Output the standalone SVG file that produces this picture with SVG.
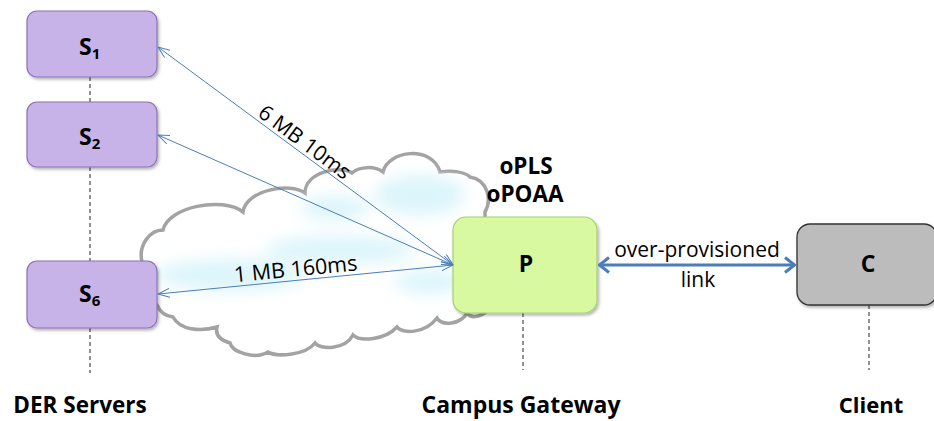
<svg xmlns="http://www.w3.org/2000/svg" width="934" height="421" viewBox="0 0 934 421">
<style>
.bold{font-family:"Open Sans","Liberation Sans",sans-serif;font-weight:bold;fill:#000}
.reg{font-family:"Open Sans","Liberation Sans",sans-serif;fill:#000}
.srv{fill:#c7b3e8;stroke:#8b72b2;stroke-width:1.2}
.dash{stroke:#222;stroke-width:1;stroke-dasharray:4 3;fill:none}
.thin{stroke:#4a7ebb;stroke-width:1;fill:none;marker-start:url(#ah);marker-end:url(#ah)}
.thick{stroke:#4a7ebb;stroke-width:3;fill:none;marker-start:url(#ahb);marker-end:url(#ahb)}
</style>
<defs>
<marker id="ah" viewBox="0 0 12 10" refX="11.5" refY="5" markerWidth="12" markerHeight="10" markerUnits="userSpaceOnUse" orient="auto-start-reverse">
<path d="M0,0.5 L11.5,5 L0,9.5" fill="none" stroke="#4a7ebb" stroke-width="1"/>
</marker>
<marker id="ahb" viewBox="0 0 12 18" refX="11" refY="9" markerWidth="12" markerHeight="18" markerUnits="userSpaceOnUse" orient="auto-start-reverse">
<path d="M1,1.5 L10.5,9 L1,16.5" fill="none" stroke="#4a7ebb" stroke-width="3"/>
</marker>
<filter id="blur" x="-30%" y="-50%" width="160%" height="200%"><feGaussianBlur stdDeviation="8"/></filter>
<filter id="sh" x="-10%" y="-10%" width="125%" height="130%"><feDropShadow dx="1.5" dy="2" stdDeviation="1.5" flood-color="#000" flood-opacity="0.3"/></filter>
<clipPath id="cc"><path id="cloudpath" d="M142,262 C138,245 150,230 163,230 C168,207 222,196 243,212 C246,190 290,182 305,193 C305,172 340,165 352,173 C360,166 375,166 383,172 C388,150 432,145 440,172 C452,170 465,172 470,177 C488,180 492,200 485,212 L486,312 C478,318 470,318 467,313 C460,325 442,326 437,318 C425,334 402,334 397,327 C385,340 360,342 353,335 C345,350 320,350 315,343 C305,356 275,357 268,352 C255,360 232,352 230,343 C220,340 215,335 217,327 C200,332 180,330 173,317 C165,316 160,312 157,305 L140,290 Z"/></clipPath>
</defs>
<rect width="934" height="421" fill="#fff"/>

<g id="cloud">
<use href="#cloudpath" fill="#fff" stroke="#a3a3a3" stroke-width="3.5"/>
<g clip-path="url(#cc)" filter="url(#blur)" fill="#dcf5fb">
<ellipse cx="230" cy="275" rx="75" ry="16"/>
<ellipse cx="340" cy="250" rx="75" ry="14"/>
<ellipse cx="420" cy="195" rx="45" ry="20"/>
<ellipse cx="335" cy="208" rx="35" ry="12"/>
<ellipse cx="430" cy="282" rx="35" ry="12"/>
</g>
</g>

<g id="lifelines">
<line class="dash" x1="90" y1="77" x2="90" y2="102"/>
<line class="dash" x1="90" y1="167" x2="90" y2="261"/>
<line class="dash" x1="90" y1="328" x2="90" y2="373"/>
<line class="dash" x1="523" y1="313" x2="523" y2="370"/>
<line class="dash" x1="869" y1="305" x2="869" y2="370"/>
</g>

<g id="S1">
<rect class="srv" x="27" y="11" width="130" height="66" rx="10" filter="url(#sh)"/>
<text class="bold" x="79" y="55" font-size="23">S<tspan font-size="15" dy="4">1</tspan></text>
</g>
<g id="S2">
<rect class="srv" x="27" y="102" width="130" height="65" rx="10" filter="url(#sh)"/>
<text class="bold" x="79" y="145" font-size="23">S<tspan font-size="15" dy="4">2</tspan></text>
</g>
<g id="S6">
<rect class="srv" x="27" y="261" width="130" height="67" rx="10" filter="url(#sh)"/>
<text class="bold" x="79" y="302" font-size="23">S<tspan font-size="15" dy="4">6</tspan></text>
</g>
<g id="P">
<rect x="453" y="217" width="144" height="96" rx="13" fill="#d8f9a0" stroke="#a8cf72" stroke-width="1.2" filter="url(#sh)"/>
<text class="bold" x="526" y="272" font-size="23" text-anchor="middle">P</text>
</g>
<g id="C">
<rect x="797" y="224" width="140" height="81" rx="13" fill="#bcbcbc" stroke="#333" stroke-width="1.3" filter="url(#sh)"/>
<text class="bold" x="868" y="272" font-size="23" text-anchor="middle">C</text>
</g>

<g id="connectors">
<line class="thin" x1="453" y1="265" x2="158" y2="47"/>
<line class="thin" x1="453" y1="265" x2="158" y2="135"/>
<line class="thin" x1="453" y1="265" x2="158" y2="294"/>
<line class="thick" x1="599" y1="265" x2="795" y2="265"/>
</g>

<g id="labels">
<text class="reg" font-size="21" text-anchor="middle" transform="translate(298,151) rotate(36.5)" y="-4">6 MB 10ms</text>
<text class="reg" font-size="21.5" text-anchor="middle" transform="translate(296.7,280.3) rotate(-5.6)" y="-4">1 MB 160ms</text>
<text class="reg" font-size="21" x="697" y="257" text-anchor="middle">over-provisioned</text>
<text class="reg" font-size="21" x="698" y="287" text-anchor="middle">link</text>
<text class="bold" font-size="22.5" x="526" y="174" text-anchor="middle">oPLS</text>
<text class="bold" font-size="22.5" x="525" y="202" text-anchor="middle">oPOAA</text>
<text class="bold" font-size="22.5" x="80" y="413" text-anchor="middle">DER Servers</text>
<text class="bold" font-size="23" x="521" y="413" text-anchor="middle">Campus Gateway</text>
<text class="bold" font-size="22" x="871" y="413" text-anchor="middle">Client</text>
</g>
</svg>
